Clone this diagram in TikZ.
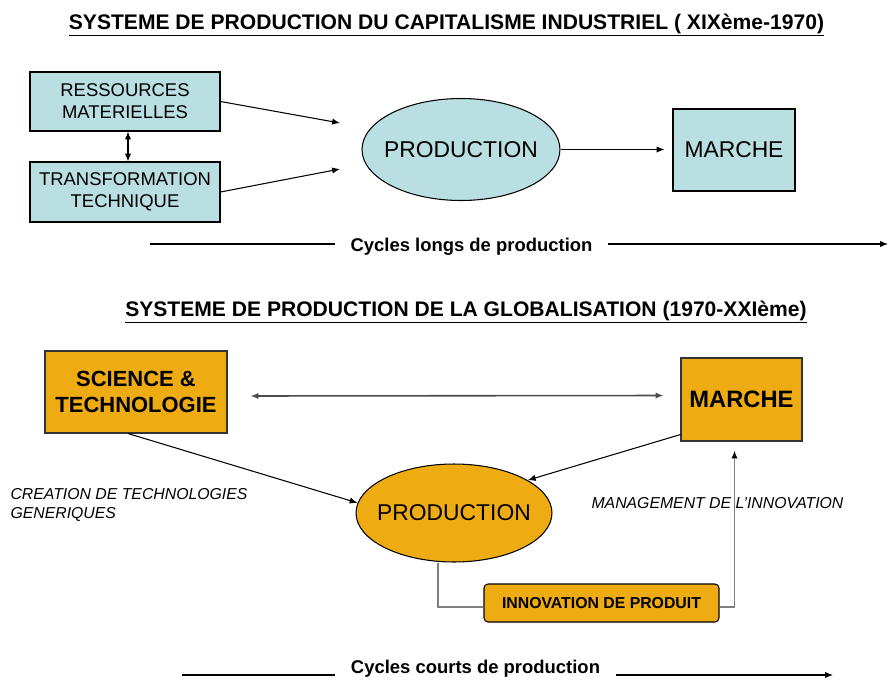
\documentclass[tikz,border=0pt]{standalone}
\usepackage{fontspec}
\setmainfont{Liberation Sans}
\usetikzlibrary{shapes.geometric,arrows.meta}

\definecolor{lightteal}{HTML}{BADFE2}
\definecolor{goldbox}{HTML}{EFAC12}

\tikzset{
    heading/.style={font=\bfseries\fontsize{12}{14}\selectfont, inner sep=0pt},
    oldbox/.style={draw=black, fill=lightteal, align=center, inner sep=0pt,
        font=\fontsize{10.5}{12.5}\selectfont},
    newbox/.style={draw=black!80, fill=goldbox, align=center, inner sep=0pt,
        font=\bfseries\fontsize{12.5}{14.5}\selectfont},
    prodellipse/.style={ellipse, draw=black, inner sep=0pt,
        font=\fontsize{13}{15}\selectfont},
    note/.style={font=\itshape\fontsize{9}{10.8}\selectfont, align=left, inner sep=0pt},
    cycletext/.style={font=\bfseries\fontsize{10.5}{12}\selectfont, inner ysep=0pt, inner xsep=0.3cm},
    grayline/.style={draw=black!50, line width=1.1pt}
}

\begin{document}
\begin{tikzpicture}[x=0.02cm, y=-0.02cm, >={Latex[length=4.5pt,width=3.6pt]}, line width=0.6pt]
    \useasboundingbox (0,0) rectangle (890,680);

    % industrial capitalism
    \node[heading, anchor=base] (title1) at (446.5,29) {\underline{SYSTEME DE PRODUCTION DU CAPITALISME INDUSTRIEL ( XIXème-1970)}};

    \node[oldbox, minimum width=3.8cm, minimum height=1.18cm] (ress) at (125,101.5) {RESSOURCES\\MATERIELLES};
    \node[oldbox, minimum width=3.8cm, minimum height=1.2cm] (trans) at (125,192) {TRANSFORMATION\\TECHNIQUE};
    \node[prodellipse, fill=lightteal, minimum width=3.96cm, minimum height=2.04cm] (prod1) at (461,149.5) {\makebox[0pt]{PRODUCTION}};
    \node[oldbox, minimum width=2.44cm, minimum height=1.64cm, font=\fontsize{13}{15}\selectfont] (marche1) at (734,150) {MARCHE};

    \coordinate (in1) at (340,123);
    \coordinate (in2) at (340,169);
    \draw[<->] ([xshift=0.06cm]ress.south) -- ([xshift=0.06cm]trans.north);
    \draw[->] (ress.east) -- (in1);
    \draw[->] (trans.east) -- (in2);
    \draw[->, shorten >=0.16cm] (prod1.east) -- (prod1.east -| marche1.west);

    \node[cycletext, anchor=base] (cycl1) at (471.5,251) {Cycles longs de production};
    \coordinate (c1a) at (150,244);
    \coordinate (c1b) at (888,244);
    \draw (c1a) -- (c1a -| cycl1.west);
    \draw[->] (c1a -| cycl1.east) -- (c1b);

    % globalisation
    \node[heading, anchor=base] (title2) at (466,316) {\underline{SYSTEME DE PRODUCTION DE LA GLOBALISATION (1970-XXIème)}};

    \node[newbox, minimum width=3.64cm, minimum height=1.64cm] (science) at (136,392) {SCIENCE \&\\TECHNOLOGIE};
    \node[newbox, minimum width=2.42cm, minimum height=1.66cm, font=\bfseries\fontsize{13.5}{15}\selectfont] (marche2) at (741.5,399.5) {MARCHE};
    \node[prodellipse, fill=goldbox, minimum width=3.92cm, minimum height=1.96cm] (prod2) at (454,513) {\makebox[0pt]{PRODUCTION}};
    \node[draw=black, fill=goldbox, rounded corners=0.08cm, minimum width=4.7cm, minimum height=0.76cm,
        font=\bfseries\fontsize{9}{11}\selectfont] (innov) at (601.5,603) {INNOVATION DE PRODUIT};

    \node[note, anchor=west] (creation) at (10,505) {CREATION DE TECHNOLOGIES\\GENERIQUES};
    \node[note, anchor=west] (mgmt) at (591,503) {MANAGEMENT DE L’INNOVATION};

    \draw[draw=black!70, line width=0.9pt, <->] ([xshift=0.46cm, yshift=-0.08cm]science.east) -- ([xshift=-0.34cm, yshift=0.08cm]marche2.west);
    \draw[->] ([xshift=-0.16cm]science.south) -- (prod2.174);
    \draw[->] ([yshift=0.14cm]marche2.south west) -- (prod2.24);
    \draw[grayline] ([xshift=-0.32cm]prod2.south) |- ([yshift=-0.08cm]innov.west);
    \draw[grayline, -{Latex[length=4.5pt,width=3.6pt,color=black]}] ([yshift=-0.08cm]innov.east) -| ([xshift=-0.14cm, yshift=-0.18cm]marche2.south);

    \node[cycletext, anchor=base] (cycl2) at (475.5,673) {Cycles courts de production};
    \coordinate (c2a) at (182,675);
    \coordinate (c2b) at (833,675);
    \draw (c2a) -- (c2a -| cycl2.west);
    \draw[->] (c2a -| cycl2.east) -- (c2b);
\end{tikzpicture}
\end{document}
